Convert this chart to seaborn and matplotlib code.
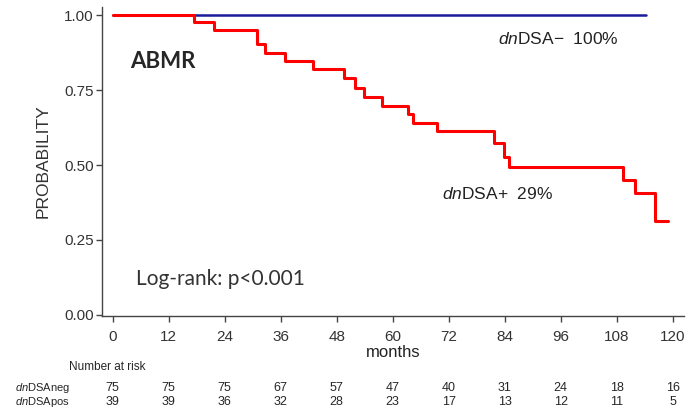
import numpy as np
import pandas as pd
import matplotlib
matplotlib.use("Agg")
import matplotlib.pyplot as plt
import matplotlib.transforms as mtransforms
import seaborn as sns

# Kaplan-Meier steps
pos_months = [0, 17.4, 21.8, 31.0, 32.6, 36.9, 42.9, 49.6, 51.9, 53.8, 57.7,
              63.3, 64.4, 69.4, 81.7, 83.9, 85.0, 109.3, 111.9, 116.3, 119.0]
pos_surv = [1.0, 0.978, 0.952, 0.905, 0.874, 0.847, 0.820, 0.791, 0.758, 0.728, 0.698,
            0.670, 0.642, 0.613, 0.572, 0.528, 0.493, 0.450, 0.408, 0.313, 0.313]
neg_months = [0, 114.3]
neg_surv = [1.0, 1.0]

# number at risk table
risk_times = [0, 12, 24, 36, 48, 60, 72, 84, 96, 108, 120]
risk_neg = [75, 75, 75, 67, 57, 47, 40, 31, 24, 18, 16]
risk_pos = [39, 39, 36, 32, 28, 23, 17, 13, 12, 11, 5]
y_ticks = [0.00, 0.25, 0.50, 0.75, 1.00]

sns.set_style("white")
plt.rcParams['font.family'] = ['Liberation Sans', 'DejaVu Sans']
plt.rcParams['mathtext.fontset'] = 'custom'
plt.rcParams['mathtext.rm'] = 'Liberation Sans'
plt.rcParams['mathtext.it'] = 'Liberation Sans:italic'

neg = pd.DataFrame({"months": neg_months, "surv": neg_surv})
pos = pd.DataFrame({"months": pos_months, "surv": pos_surv})

fig = plt.figure(figsize=(6.94, 4.15), dpi=100)
ax = fig.add_axes([0.147, 0.2386, 0.839, 0.744])

sns.lineplot(data=neg, x="months", y="surv", ax=ax, color="#1a1a9a", lw=1.8,
             drawstyle="steps-post", estimator=None, sort=False)
sns.lineplot(data=pos, x="months", y="surv", ax=ax, color="#ff0000", lw=2.2,
             drawstyle="steps-post", estimator=None, sort=False)

ax.set_xlim(-2.3, 122.5)
ax.set_ylim(-0.004, 1.027)
ax.set_xticks(risk_times)
ax.set_yticks(y_ticks)
ax.set_yticklabels([f"{v:.2f}" for v in y_ticks])
sns.despine(ax=ax)
for s in ["left", "bottom"]:
    ax.spines[s].set_color("#444444")
    ax.spines[s].set_linewidth(1.0)
ax.tick_params(axis="both", direction="out", length=4, width=1, color="#444444",
               labelsize=11, labelcolor="#333333", left=True, bottom=True)
ax.tick_params(axis="x", pad=6)
ax.tick_params(axis="y", pad=2)
ax.set_xlabel("months", fontsize=12, color="#222222", labelpad=0.5)
ax.set_ylabel("PROBABILITY", fontsize=12.5, color="#333333", labelpad=10)

ax.text(3.8, 0.825, "ABMR", fontsize=16, fontweight="bold", family=["Lato", "DejaVu Sans"])
ax.text(5, 0.10, "Log-rank: p<0.001", fontsize=15, color="#333333", family=["Lato", "DejaVu Sans"])
ax.text(82.5, 0.905, r"$\mathit{dn}$DSA−  100%", fontsize=12.5, color="#222222")
ax.text(70.5, 0.385, r"$\mathit{dn}$DSA+  29%", fontsize=12.5, color="#222222")

# number at risk below the axis
trans = mtransforms.blended_transform_factory(ax.transData, fig.transFigure)
fig.text(0.10, 1 - 367 / 415, "Number at risk", fontsize=8.5, va="center")
fig.text(0.022, 1 - 388 / 415, r"$\mathit{dn}$DSAneg", fontsize=8, va="center")
fig.text(0.022, 1 - 402 / 415, r"$\mathit{dn}$DSApos", fontsize=8, va="center")
for t, a, b in zip(risk_times, risk_neg, risk_pos):
    ax.text(t, 1 - 388 / 415, str(a), transform=trans, fontsize=9,
            ha="center", va="center")
    ax.text(t, 1 - 402 / 415, str(b), transform=trans, fontsize=9,
            ha="center", va="center")

fig.savefig("out.png", dpi=100)
